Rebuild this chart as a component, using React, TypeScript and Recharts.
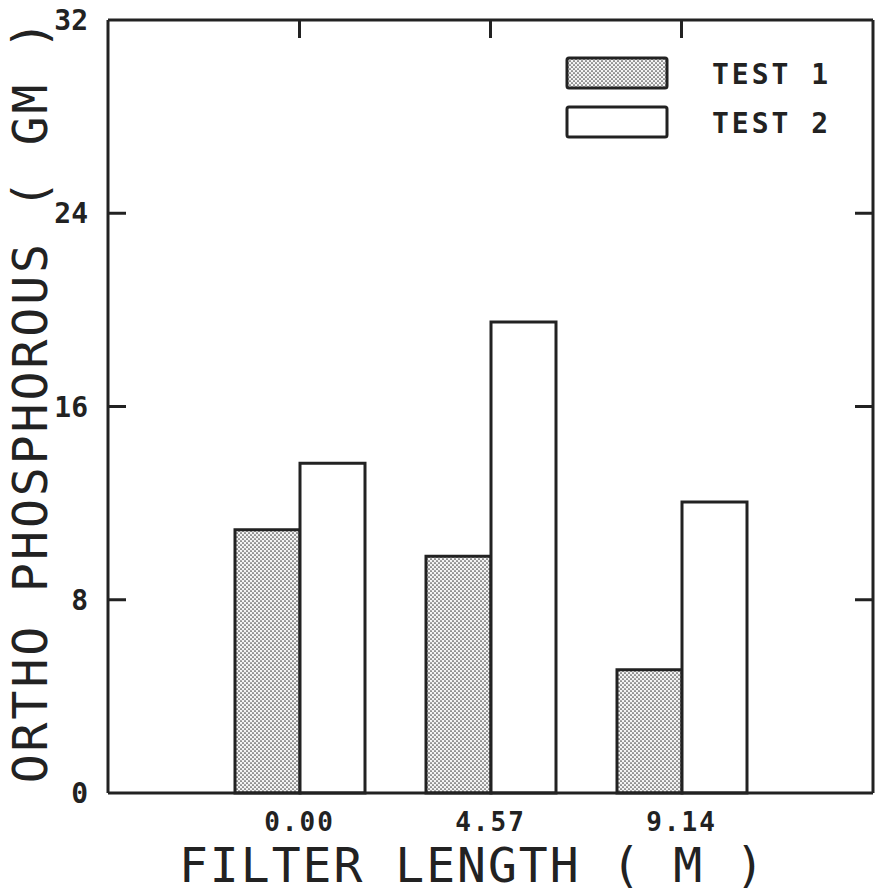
import { BarChart, Bar, XAxis, YAxis, Legend } from 'recharts';

const lengths = ['0.00', '4.57', '9.14'];
const test1 = [10.9, 9.8, 5.1];
const test2 = [13.65, 19.5, 12.05];
const yTicks = [0, 8, 16, 24, 32];
const innerTicks = [8, 16, 24];

const data = lengths.map((name, i) => ({ name, test1: test1[i], test2: test2[i] }));

const mono = '"DejaVu Sans Mono", monospace';
const ink = '#222';
const axisLine = { stroke: ink, strokeWidth: 3 };
const TICK_LEN = 18;

// left axis: label outside, short tick mark pointing into the plot
const LeftTick = (props: any) => {
  const { x, y, payload } = props;
  const axisX = x + 6 + 18; // tickSize + tickMargin
  const inner = innerTicks.includes(payload.value);
  return (
    <g>
      <text x={x + 4} y={y} dy={10} textAnchor="end" fontFamily={mono} fontWeight="bold" fontSize={28} fill={ink}>
        {payload.value}
      </text>
      {inner && <line x1={axisX} x2={axisX + TICK_LEN} y1={y} y2={y} stroke={ink} strokeWidth={3} />}
    </g>
  );
};

const RightTick = (props: any) => {
  const { x, y } = props;
  return <line x1={x - TICK_LEN} x2={x} y1={y} y2={y} stroke={ink} strokeWidth={3} />;
};

const TopTick = (props: any) => {
  const { x, y } = props;
  return <line x1={x} x2={x} y1={y} y2={y + TICK_LEN} stroke={ink} strokeWidth={3} />;
};

const renderLegend = (props: any) => {
  const payload = props.payload || [];
  return (
    <svg width={290} height={95}>
      {payload.map((entry: any, i: number) => (
        <g key={entry.value} transform={`translate(0, ${i * 49})`}>
          <rect x={2} y={2} width={100} height={30} fill={entry.color} stroke={ink} strokeWidth={3} rx={2} />
          <text
            x={147}
            y={18}
            dominantBaseline="central"
            fontFamily={mono}
            fontWeight="bold"
            fontSize={28}
            letterSpacing={3}
            fill={ink}
          >
            {entry.value}
          </text>
        </g>
      ))}
    </svg>
  );
};

export default function App() {
  return (
    <div style={{ position: 'absolute', left: 0, top: 0, width: 881, height: 893, background: '#fff' }}>
      <BarChart
        width={881}
        height={893}
        data={data}
        margin={{ top: 19, right: 7, bottom: 0, left: 0 }}
        barGap={0}
        barSize={65}
      >
        <defs>
          <pattern id="stipple" width={4} height={4} patternUnits="userSpaceOnUse">
            <rect width={4} height={4} fill="#f4f4f4" />
            <circle cx={1} cy={1} r={0.85} fill="#444" />
            <circle cx={3} cy={3} r={0.85} fill="#444" />
          </pattern>
        </defs>
        <XAxis
          dataKey="name"
          xAxisId="bottom"
          height={100}
          padding={{ left: 96, right: 96 }}
          axisLine={axisLine}
          tickLine={false}
          tickMargin={14}
          tick={{ fontFamily: mono, fontWeight: 'bold', fontSize: 26, fill: ink, letterSpacing: 2 }}
          label={{
            value: 'FILTER LENGTH ( M )',
            position: 'insideBottom',
            offset: 11,
            dx: -18,
            fontFamily: mono,
            fontSize: 48,
            letterSpacing: 2,
            fill: ink,
          }}
        />
        <XAxis
          dataKey="name"
          xAxisId="top"
          orientation="top"
          height={1}
          padding={{ left: 96, right: 96 }}
          axisLine={axisLine}
          tickLine={false}
          tickSize={0}
          tickMargin={0}
          tick={<TopTick />}
        />
        <YAxis
          yAxisId="left"
          width={108}
          domain={[0, 32]}
          ticks={yTicks}
          interval={0}
          axisLine={axisLine}
          tickLine={false}
          tickSize={6}
          tickMargin={18}
          tick={<LeftTick />}
          label={{
            value: 'ORTHO PHOSPHOROUS ( GM )',
            angle: -90,
            position: 'insideLeft',
            offset: 30,
            dy: -6,
            style: { textAnchor: 'middle' },
            fontFamily: mono,
            fontSize: 48,
            letterSpacing: 3,
            fill: ink,
          }}
        />
        <YAxis
          yAxisId="right"
          orientation="right"
          width={1}
          domain={[0, 32]}
          ticks={innerTicks}
          interval={0}
          axisLine={axisLine}
          tickLine={false}
          tickSize={0}
          tickMargin={0}
          tick={<RightTick />}
        />
        <Legend
          content={renderLegend}
          layout="vertical"
          align="center"
          verticalAlign="middle"
          wrapperStyle={{ position: 'absolute', left: 565, top: 56, width: 290, height: 95 }}
        />
        <Bar
          dataKey="test1"
          name="TEST 1"
          xAxisId="bottom"
          yAxisId="left"
          fill="url(#stipple)"
          stroke={ink}
          strokeWidth={3}
          isAnimationActive={false}
        />
        <Bar
          dataKey="test2"
          name="TEST 2"
          xAxisId="bottom"
          yAxisId="right"
          fill="#fff"
          stroke={ink}
          strokeWidth={3}
          isAnimationActive={false}
        />
      </BarChart>
    </div>
  );
}
